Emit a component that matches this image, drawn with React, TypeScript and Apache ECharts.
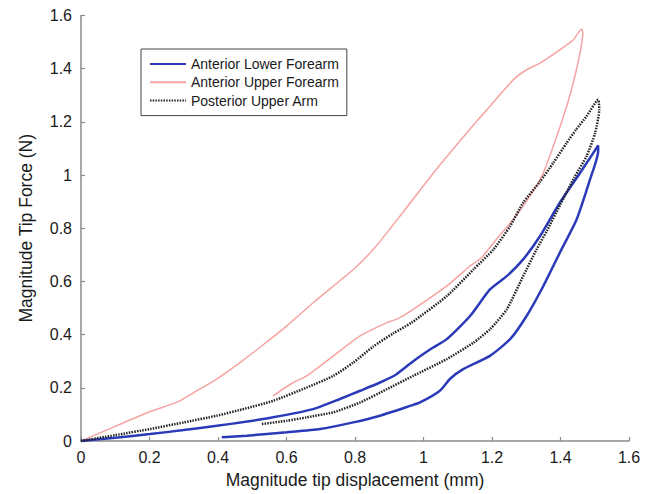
import React, { useEffect, useRef } from "react";
import * as echarts from "echarts";

const xTicks = [0, 0.2, 0.4, 0.6, 0.8, 1, 1.2, 1.4, 1.6];
const yTicks = [0, 0.2, 0.4, 0.6, 0.8, 1, 1.2, 1.4, 1.6];

const seriesNames = [
  "Anterior Lower Forearm",
  "Anterior Upper Forearm",
  "Posterior Upper Arm",
];

// Anterior Lower Forearm: loading then unloading [displacement, force]
const lowerForearm: [number, number][] = [
  [0, 0], [0.1, 0.012], [0.201, 0.026], [0.3, 0.041], [0.396, 0.057], [0.48, 0.072],
  [0.561, 0.089], [0.678, 0.12], [0.756, 0.158], [0.815, 0.189], [0.873, 0.22],
  [0.92, 0.25], [0.97, 0.3], [1.02, 0.345], [1.068, 0.383], [1.136, 0.47],
  [1.194, 0.57], [1.243, 0.62], [1.291, 0.683], [1.34, 0.77], [1.398, 0.896],
  [1.457, 1.008], [1.51, 1.111],
  [1.51, 1.09], [1.486, 0.983], [1.447, 0.833], [1.398, 0.708], [1.35, 0.583],
  [1.301, 0.47], [1.253, 0.383], [1.194, 0.32], [1.116, 0.27], [1.077, 0.233],
  [1.048, 0.189], [0.99, 0.145], [0.961, 0.132], [0.873, 0.095], [0.795, 0.07],
  [0.698, 0.045], [0.601, 0.033], [0.484, 0.02], [0.411, 0.014],
];

// Anterior Upper Forearm
const upperForearm: [number, number][] = [
  [0, 0], [0.1, 0.055], [0.2, 0.11], [0.279, 0.145], [0.34, 0.19], [0.396, 0.233], [0.464, 0.295],
  [0.53, 0.36], [0.601, 0.433], [0.678, 0.52], [0.795, 0.645], [0.853, 0.72],
  [0.931, 0.845], [1.029, 1.008], [1.126, 1.158], [1.185, 1.246], [1.262, 1.358],
  [1.301, 1.396], [1.34, 1.421], [1.398, 1.471], [1.437, 1.508], [1.462, 1.549],
  [1.465, 1.533], [1.457, 1.459], [1.437, 1.346], [1.418, 1.258], [1.379, 1.108],
  [1.347, 1.0], [1.3, 0.9], [1.26, 0.83], [1.22, 0.77], [1.17, 0.69], [1.136, 0.658],
  [1.068, 0.583], [0.97, 0.495], [0.922, 0.458], [0.893, 0.445], [0.815, 0.395],
  [0.737, 0.32], [0.659, 0.245], [0.62, 0.22], [0.561, 0.17],
];

// Posterior Upper Arm
const upperArm: [number, number][] = [
  [0, 0], [0.1, 0.022], [0.201, 0.045], [0.3, 0.07], [0.396, 0.095], [0.48, 0.122],
  [0.561, 0.151], [0.659, 0.201], [0.737, 0.245], [0.795, 0.295], [0.853, 0.355],
  [0.912, 0.405], [0.965, 0.445], [1.068, 0.545], [1.146, 0.645], [1.204, 0.72],
  [1.253, 0.808], [1.291, 0.896], [1.34, 0.975], [1.379, 1.046], [1.418, 1.121],
  [1.445, 1.17], [1.476, 1.221], [1.51, 1.283],
  [1.513, 1.246], [1.501, 1.158], [1.476, 1.071], [1.44, 0.99], [1.4, 0.89],
  [1.36, 0.79], [1.33, 0.72], [1.291, 0.62], [1.243, 0.495], [1.194, 0.42],
  [1.146, 0.37], [1.068, 0.308], [0.97, 0.245], [0.893, 0.195], [0.815, 0.145],
  [0.737, 0.108], [0.659, 0.089], [0.601, 0.076], [0.528, 0.064],
];

const FONT = "Liberation Sans, Arial, Helvetica, sans-serif";

export default function App() {
  const ref = useRef<HTMLDivElement>(null);
  useEffect(() => {
    if (!ref.current) return;
    const chart = echarts.init(ref.current, undefined, { renderer: "svg" });
    const axisCommon = {
      type: "value" as const,
      min: xTicks[0],
      max: xTicks[xTicks.length - 1],
      interval: 0.2,
      axisLine: { show: true, onZero: false, lineStyle: { color: "#8a8a8a", width: 1.5 } },
      axisTick: { show: true, inside: true, length: 4, lineStyle: { color: "#8a8a8a", width: 1.2 } },
      splitLine: { show: false },
      axisLabel: { color: "#1a1a1a", fontSize: 16, fontFamily: FONT },
      nameLocation: "middle" as const,
      nameTextStyle: { color: "#1a1a1a", fontSize: 17.5, fontFamily: FONT },
    };
    chart.setOption({
      animation: false,
      backgroundColor: "#ffffff",
      grid: { left: 81, right: 22, top: 15.5, bottom: 52, containLabel: false },
      legend: {
        orient: "vertical",
        left: 141,
        top: 49,
        padding: [8, 8, 8, 8],
        itemGap: 4.3,
        itemWidth: 36,
        itemHeight: 14,
        itemTextGap: 4,
        borderColor: "#444",
        borderWidth: 1,
        backgroundColor: "#fff",
        itemStyle: { opacity: 0 },
        textStyle: { color: "#1a1a1a", fontSize: 14, fontFamily: FONT, lineHeight: 14 },
        data: seriesNames,
      },
      xAxis: {
        ...axisCommon,
        name: "Magnitude tip displacement (mm)",
        nameGap: 30,
        axisLabel: { ...axisCommon.axisLabel, margin: 8 },
      },
      yAxis: {
        ...axisCommon,
        min: yTicks[0],
        max: yTicks[yTicks.length - 1],
        name: "Magnitude Tip Force (N)",
        nameGap: 46,
        axisLabel: { ...axisCommon.axisLabel, margin: 9 },
      },
      series: [
        {
          name: seriesNames[0],
          type: "line",
          data: lowerForearm,
          symbol: "none",
          smooth: 0.2,
          lineStyle: { color: "#2a3ab8", width: 2.5 },
          itemStyle: { color: "#2a3ab8" },
          z: 3,
        },
        {
          name: seriesNames[1],
          type: "line",
          data: upperForearm,
          symbol: "none",
          smooth: 0.2,
          lineStyle: { color: "#f6a3a3", width: 1.5 },
          itemStyle: { color: "#f6a3a3" },
          z: 2,
        },
        {
          name: seriesNames[2],
          type: "line",
          data: upperArm,
          symbol: "none",
          smooth: 0.2,
          lineStyle: { color: "#222222", width: 2.5, type: [1.5, 1.2] },
          itemStyle: { color: "#222222" },
          z: 4,
        },
      ],
    });
    return () => chart.dispose();
  }, []);
  return (
    <div
      ref={ref}
      style={{ position: "fixed", left: 0, top: 0, width: 651, height: 494, background: "#fff" }}
    />
  );
}
